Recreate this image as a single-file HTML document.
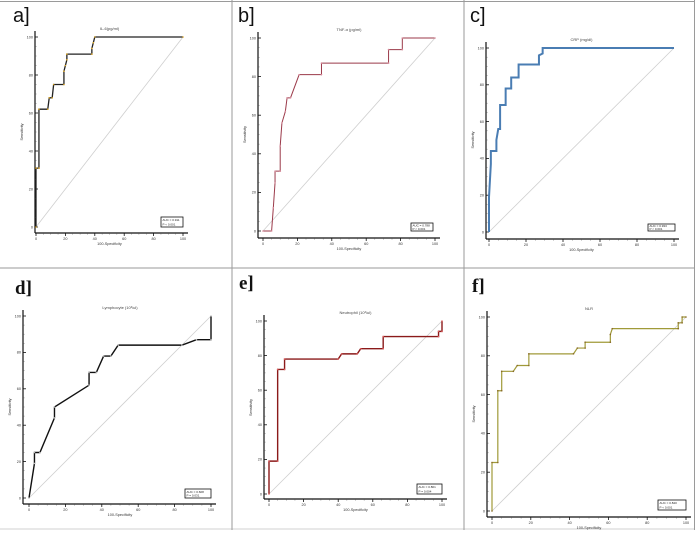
<!DOCTYPE html>
<html><head><meta charset="utf-8">
<style>
html,body{margin:0;padding:0;background:#fff;}
svg{display:block;font-family:"Liberation Sans",sans-serif;}
</style></head>
<body>
<svg id="fig" width="695" height="536" viewBox="0 0 695 536" xmlns="http://www.w3.org/2000/svg">
<rect x="0" y="0" width="695" height="536" fill="#fff"/>
<g stroke="#9a9a9a" stroke-width="1" fill="none">
<line x1="0" y1="1.5" x2="695" y2="1.5"/>
<line x1="0" y1="268" x2="695" y2="268"/>
<line x1="0" y1="529" x2="695" y2="529" stroke="#d0d0d0"/>
<line x1="232" y1="0" x2="232" y2="530"/>
<line x1="464" y1="0" x2="464" y2="530"/>
<line x1="694.5" y1="0" x2="694.5" y2="530"/>
</g>
<g id="panels"></g>
</svg>
<script>
const ticks = [0, 20, 40, 60, 80, 100];
const aFpr = [0,0,2,2,8,9,11,12,19,19,20,21,21,38,38,39,40,100];
const aTpr = [0,31,31,62,62,68,68,75,75,82,85,88,91,91,94,97,100,100];
const bFpr = [0,5,6,7,7,10,10,11,13,14,16,21,34,34,73,73,81,81,100];
const bTpr = [0,0,12,25,31,31,44,56,62,69,69,81,81,87,87,94,94,100,100];
const cFpr = [0,0,1,1,4,4,5,6,6,9,9,12,12,16,16,27,27,29,29,100];
const cTpr = [0,19,37,44,44,50,56,56,69,69,78,78,84,84,91,91,96,97,100,100];
const dFpr = [0,3,3,6,14,14,33,33,37,41,45,49,84,92,100,100];
const dTpr = [0,19,25,25,44,50,62,69,69,78,78,84,84,87,87,100];
const eFpr = [0,0,5,5,9,9,40,42,51,53,66,66,98,98,100,100];
const eTpr = [0,19,19,72,72,78,78,81,81,84,84,91,91,94,94,100];
const fFpr = [0,0,3,3,5,5,11,13,19,19,42,44,48,48,61,61,62,96,96,98,98,100];
const fTpr = [0,25,25,62,62,72,72,75,75,81,81,84,84,87,87,91,94,94,97,97,100,100];
const titles = ["IL-6(pg/ml)","TNF-\u03b1 (pg/ml)","CRP (mg/dl)","Lymphocyte (10\u00b3/ul)","Neutrophil (10\u00b3/ul)","NLR"];
const aucLabels = ["AUC = 0.911","AUC = 0.788","AUC = 0.933","AUC = 0.608","AUC = 0.801","AUC = 0.840"];
const pLabels = ["P < 0.001","P < 0.001","P < 0.001","P = 0.031","P = 0.004","P < 0.001"];

const layouts = [
 {id:"a",lab:"a]",lx:13,ly:22,serif:false,x0:36,x1:183,y0:227,y1:37,ax:35,ay:233,line:"#222",dot:"#d9a21f",lw:1.3,box:[161,217,22,10]},
 {id:"b",lab:"b]",lx:238,ly:22,serif:false,x0:263,x1:435,y0:231,y1:38,ax:258,ay:238,line:"#9b3a4a",dot:"#d78a9a",lw:1,box:[411,223,22,8]},
 {id:"c",lab:"c]",lx:470,ly:22,serif:false,x0:489,x1:674,y0:232,y1:48,ax:486,ay:239,line:"#4a7db3",dot:null,lw:2,box:[648,224,27,7]},
 {id:"d",lab:"d]",lx:15,ly:294,serif:true,x0:29,x1:211,y0:498,y1:316,ax:23,ay:504,line:"#111",dot:"#bbb",lw:1.4,box:[185,489,26,9]},
 {id:"e",lab:"e]",lx:239,ly:289,serif:true,x0:269,x1:442,y0:494,y1:321,ax:264,ay:499,line:"#8b1a1a",dot:"#e06060",lw:1.4,box:[417,484,25,10]},
 {id:"f",lab:"f]",lx:472,ly:292,serif:true,x0:492,x1:686,y0:511,y1:317,ax:487,ay:517,line:"#a09a38",dot:"#8a6a2a",lw:1.2,box:[658,500,28,10]}
];
const series = [[aFpr,aTpr],[bFpr,bTpr],[cFpr,cTpr],[dFpr,dTpr],[eFpr,eTpr],[fFpr,fTpr]];
const NS = "http://www.w3.org/2000/svg";
const root = document.getElementById("panels");
function mk(tag, attrs, parent){ const e=document.createElementNS(NS,tag); for(const k in attrs) e.setAttribute(k,attrs[k]); parent.appendChild(e); return e; }

layouts.forEach((L,i)=>{
  const sx = v => L.x0 + (L.x1-L.x0)*v/100;
  const sy = v => L.y0 - (L.y0-L.y1)*v/100;
  const g = mk("g",{},root);
  
  
  const lab = mk("text",{x:L.lx,y:L.ly,"font-size":L.serif?19:20,"font-weight":L.serif?"bold":"normal","font-family":L.serif?"Liberation Serif, serif":"Liberation Sans, sans-serif",fill:"#111"},g);
  lab.textContent = L.lab;
  
  
  const t = mk("text",{x:(L.x0+L.x1)/2,y:L.y1-7,"font-size":4,"text-anchor":"middle",fill:"#444"},g);
  t.textContent = titles[i];
  
  
  // diagonal
  const diag = mk("line",{x1:sx(0),y1:sy(0),x2:sx(100),y2:sy(100),stroke:"#cfcfcf","stroke-width":0.8},g);
  
  
  // axes
  const ya = mk("line",{x1:L.ax,y1:L.y1-6,x2:L.ax,y2:L.ay,stroke:"#111","stroke-width":1.2},g);
  
  
  const xa = mk("line",{x1:L.ax,y1:L.ay,x2:L.x1+5,y2:L.ay,stroke:"#111","stroke-width":1.2},g);
  
  
  ticks.forEach(v=>{
    const ty = mk("line",{x1:L.ax,y1:sy(v),x2:L.ax+3,y2:sy(v),stroke:"#111","stroke-width":0.8},g);
    
    
    const tl = mk("text",{x:L.ax-2,y:sy(v)+1.3,"font-size":3.8,"text-anchor":"end",fill:"#333"},g);
    tl.textContent = v;
    
    
    const tx = mk("line",{x1:sx(v),y1:L.ay,x2:sx(v),y2:L.ay+3,stroke:"#111","stroke-width":0.8},g);
    
    
    const xl = mk("text",{x:sx(v),y:L.ay+7,"font-size":3.8,"text-anchor":"middle",fill:"#333"},g);
    xl.textContent = v;
    
    
  });
  for(let v=0; v<100; v+=5){ if(v%20===0) continue;
    const m1 = mk("line",{x1:L.ax,y1:sy(v),x2:L.ax+1.5,y2:sy(v),stroke:"#555","stroke-width":0.5},g);
    
    
    const m2 = mk("line",{x1:sx(v),y1:L.ay,x2:sx(v),y2:L.ay+1.5,stroke:"#555","stroke-width":0.5},g);
    
    
  }
  const xt = mk("text",{x:(L.x0+L.x1)/2,y:L.ay+12,"font-size":3.8,"text-anchor":"middle",fill:"#333"},g);
  xt.textContent = "100-Specificity";
  
  
  const yx = L.ax-12, yy=(L.y0+L.y1)/2;
  const yt = mk("text",{x:yx,y:yy,"font-size":3.8,"text-anchor":"middle",fill:"#333",transform:`rotate(-90 ${yx} ${yy})`},g);
  yt.textContent = "Sensitivity";
  
  
  // curve
  const [fx, ty2] = series[i];
  const pts = fx.map((v,k)=>sx(v)+","+sy(ty2[k])).join(" ");
  const pl = mk("polyline",{points:pts,fill:"none",stroke:L.line,"stroke-width":L.lw,"stroke-linejoin":"miter"},g);
  
  
  if(L.dot){
    fx.forEach((v,k)=>{
      const c = mk("circle",{cx:sx(v),cy:sy(ty2[k]),r:0.8,fill:L.dot},g);
      
      
    });
  }
  // auc box
  const b = L.box;
  const br = mk("rect",{x:b[0],y:b[1],width:b[2],height:b[3],fill:"#fff",stroke:"#111","stroke-width":0.8},g);
  
  
  const a1 = mk("text",{x:b[0]+1.5,y:b[1]+b[3]*0.42,"font-size":3,fill:"#222"},g);
  a1.textContent = aucLabels[i];
  
  
  const a2 = mk("text",{x:b[0]+1.5,y:b[1]+b[3]*0.85,"font-size":3,fill:"#222"},g);
  a2.textContent = pLabels[i];
  
  
});
</script>
</body></html>
